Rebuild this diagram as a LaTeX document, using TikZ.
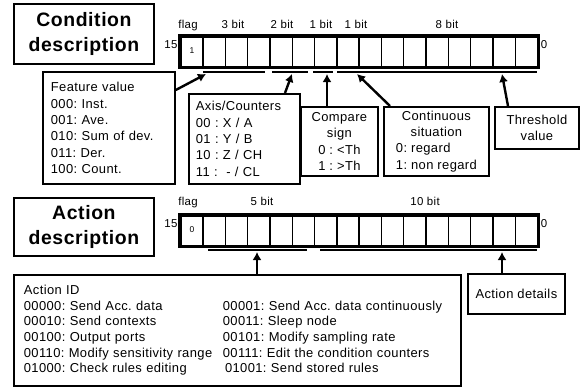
\documentclass[tikz,border=0pt]{standalone}
\usepackage{fontspec}
\setmainfont{Liberation Sans}[LetterSpace=3]
\usepackage{tikz}
\usetikzlibrary{arrows.meta, positioning, calc}
\newcommand{\idcol}[1]{\makebox[199bp][l]{#1}}
\tikzset{
    tbox/.style={rectangle, draw=black, line width=1.8bp, align=center,
                 inner sep=0pt, minimum width=140bp, anchor=north west,
                 font=\fontsize{19.5}{25}\selectfont\bfseries},
    ibox/.style={rectangle, draw=black, line width=1.8bp, inner sep=0pt,
                 anchor=north west, font=\fontsize{13}{16.4}\selectfont},
    cell/.style={rectangle, draw=black, line width=1.4bp, inner sep=0pt,
                 minimum width=22.3bp, minimum height=30bp, anchor=north west,
                 font=\fontsize{8}{9}\selectfont},
    lbl/.style={inner sep=0pt, anchor=base, font=\fontsize{11.5}{13}\selectfont},
    frame/.style={line width=3.2bp},
    uline/.style={line width=2.6bp},
    arr/.style={-{Latex[length=8bp,width=9bp]}, line width=2.4bp}
}

\begin{document}
\frenchspacing
\begin{tikzpicture}[x=1bp, y=-1bp]
\useasboundingbox (0,0) rectangle (583,387);

% ── Condition description ─────────────────────────────────────────────
\node[tbox, minimum height=60bp] at (13,3) (cond) {Condition\\description};

\foreach \i in {0,...,15}
    \node[cell] at ({180+22.3*\i},36) (c\i) {};
\draw[frame] (c0.north west) rectangle (c15.south east);
\node[font=\fontsize{8.5}{9}\selectfont, inner sep=0pt] at (192,51) (cflag) {1};

\node[lbl] at (171,48)  (chi)  {15};
\node[lbl] at (544,48)  (clo)  {0};
\node[lbl] at (188,28)  (cf)   {flag};
\node[lbl] at (233,28)  (cb3)  {3 bit};
\node[lbl] at (282,28)  (cb2)  {2 bit};
\node[lbl] at (321,28)  (cb1a) {1 bit};
\node[lbl] at (356,28)  (cb1b) {1 bit};
\node[lbl] at (447,28)  (cb8)  {8 bit};

\draw[uline] (203,72) -- (265,72);
\draw[uline] (272,72) -- (308,72);
\draw[uline] (313,72) -- (333,72);
\draw[uline] (337,72) -- (537,72);

\coordinate (t3)  at (206,74);
\coordinate (t2)  at (292,74);
\coordinate (t1a) at (327,74);
\coordinate (t1b) at (357,74);
\coordinate (t8)  at (502,74);

% ── Field boxes ───────────────────────────────────────────────────────
\node[ibox, align=left, text width=116bp, inner xsep=8bp, minimum height=112bp]
    at (42,71) (feat) {Feature value\\000: Inst.\\001: Ave.\\010: Sum of dev.\\011: Der.\\100: Count.};
\node[ibox, align=left, text width=97bp, inner xsep=7bp, minimum height=90bp]
    at (188,93) (axis) {Axis/Counters\\00 : X / A\\01 : Y / B\\10 : Z / CH\\11 : \ - / CL};
\node[ibox, align=center, minimum width=77bp, minimum height=69bp]
    at (300,106) (cmp) {Compare\\sign\\0 : <Th\\1 : >Th};
\node[ibox, minimum width=105bp, minimum height=69bp]
    at (383,106) (cont) {\begin{tabular}{@{}l@{}}
        \multicolumn{1}{@{}c@{}}{Continuous}\\
        \multicolumn{1}{@{}c@{}}{situation}\\
        0: regard\\
        1: non regard
    \end{tabular}};
\node[ibox, align=center, minimum width=84bp, minimum height=42bp]
    at (494,106) (thr) {Threshold\\value};

\draw[arr] ($(feat.north east)+(0,19)$) -- (t3);
\draw[arr] (axis.north -| 285,0) -- (t2);
\draw[arr] (cmp.north -| t1a) -- (t1a);
\draw[arr] (cont.north -| 390,0) -- (t1b);
\draw[arr] (thr.north -| 508,0) -- (t8);

% ── Action description ────────────────────────────────────────────────
\node[tbox, minimum height=58bp] at (13,197) (act) {Action\\description};

\foreach \i in {0,...,15}
    \node[cell] at ({180+22.3*\i},215) (a\i) {};
\draw[frame] (a0.north west) rectangle (a15.south east);
\node[font=\fontsize{8.5}{9}\selectfont, inner sep=0pt] at (192,230) (aflag) {0};

\node[lbl] at (171,227) (ahi)  {15};
\node[lbl] at (544,227) (alo)  {0};
\node[lbl] at (188,205) (af)   {flag};
\node[lbl] at (262,205) (ab5)  {5 bit};
\node[lbl] at (425,205) (ab10) {10 bit};

\draw[uline] (208,250) -- (307,250);
\draw[uline] (320,250) -- (537,250);

\coordinate (t5)  at (257,252);
\coordinate (t10) at (502,252);

% ── Action boxes ──────────────────────────────────────────────────────
\node[ibox, align=left, text width=427bp, inner xsep=10bp, minimum height=111bp,
      font=\fontsize{13}{15.6}\selectfont]
    at (13,274) (aid) {Action ID\\
        \idcol{00000: Send Acc. data}00001: Send Acc. data continuously\\
        \idcol{00010: Send contexts}00011: Sleep node\\
        \idcol{00100: Output ports}00101: Modify sampling rate\\
        \idcol{00110: Modify sensitivity range}00111: Edit the condition counters\\
        \idcol{01000: Check rules editing}\,01001: Send stored rules};
\node[ibox, align=center, minimum width=97bp, minimum height=40bp]
    at (467,273) (adet) {Action details};

\draw[arr] (aid.north -| t5) -- (t5);
\draw[arr] (adet.north -| t10) -- (t10);
\end{tikzpicture}
\end{document}
